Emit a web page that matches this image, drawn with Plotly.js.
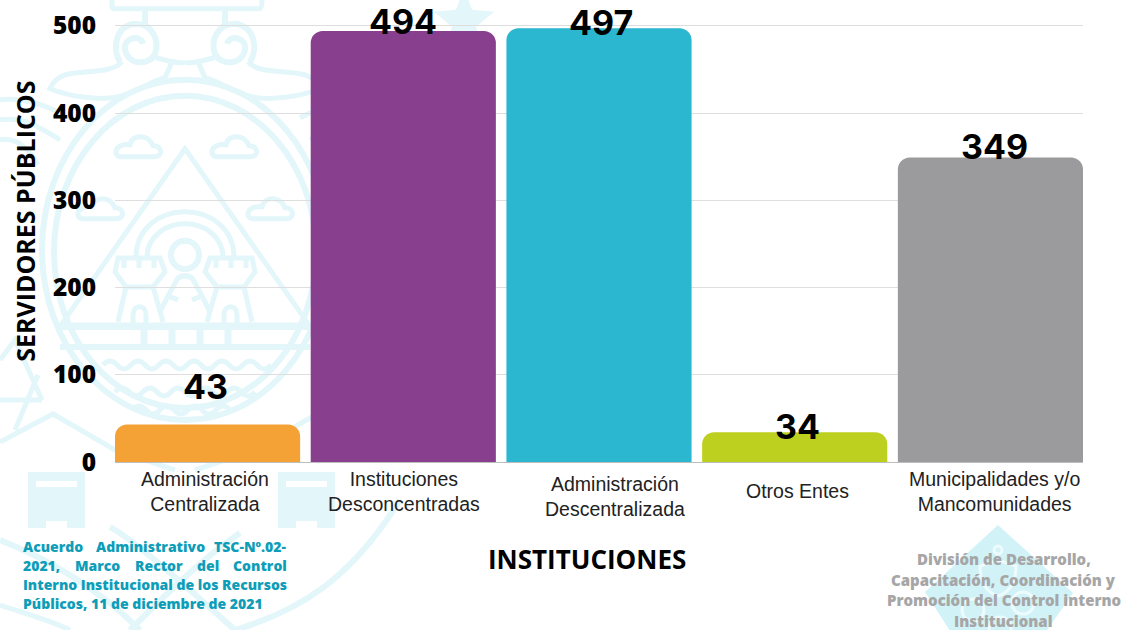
<!DOCTYPE html>
<html><head><meta charset="utf-8">
<script src="https://cdn.plot.ly/plotly-3.0.1.min.js"></script>
<style>html,body{margin:0;padding:0;background:#fff;overflow:hidden}</style>
</head><body><div id="chart" style="width:1123px;height:630px"></div>
<script>
const categories = ['Administración Centralizada','Instituciones Desconcentradas','Administración Descentralizada','Otros Entes','Municipalidades y/o Mancomunidades'];
const tickLabels = ['Administración<br>Centralizada','Instituciones<br>Desconcentradas','Administración<br>Descentralizada','Otros Entes','Municipalidades y/o<br>Mancomunidades'];
const values = [43,494,497,34,349];
const barColors = ['#F4A235','#873F8E','#2BB7D0','#BDD01F','#9B9B9D'];
const yTicks = [0,100,200,300,400,500];
const labelShiftX = [-2,0,2,3,4];
const labelShiftY = [38,9,6,6,11];
const tickShiftX = [-3,1,16,3,4];
const tickCenterY = [491,491,496,491,491];

const L=115, W=968, B=462, H=436;
const px = x => (x-L)/W, py = y => (B-y)/(H+1.74);
const conv = p => p.replace(/(-?[\d.]+),(-?[\d.]+)/g,(m,x,y)=>px(+x)+','+py(+y));
const mirror = p => p.replace(/(-?[\d.]+),(-?[\d.]+)/g,(m,x,y)=>(370-x)+','+y);
const pale='#e3f6fa';
const shapes=[];
const stroke=(p,w=5,c=pale)=>shapes.push({type:'path',layer:'below',xref:'paper',yref:'paper',path:conv(p),line:{color:c,width:w},fillcolor:'rgba(0,0,0,0)'});
const fill=(p,c=pale)=>shapes.push({type:'path',layer:'below',xref:'paper',yref:'paper',path:conv(p),line:{width:0},fillcolor:c});
const both=(p,w=5)=>{stroke(p,w);stroke(mirror(p),w);};
const ell=(cx,cy,rx,ry)=>{const k=.5523;return `M${cx-rx},${cy} C${cx-rx},${cy-k*ry} ${cx-k*rx},${cy-ry} ${cx},${cy-ry} C${cx+k*rx},${cy-ry} ${cx+rx},${cy-k*ry} ${cx+rx},${cy} C${cx+rx},${cy+k*ry} ${cx+k*rx},${cy+ry} ${cx},${cy+ry} C${cx-k*rx},${cy+ry} ${cx-rx},${cy+k*ry} ${cx-rx},${cy} Z`;};
const wave=(x0,x1,y)=>{let s=`M${x0},${y}`,d=-1;for(let x=x0;x<x1;x+=14){s+=` Q${x+7},${y+d*8} ${x+14},${y}`;d=-d;}return s;};
const cloud=(cx,cy)=>`M${cx-16},${cy+9} L${cx+16},${cy+9} C${cx+25},${cy+9} ${cx+25},${cy-2} ${cx+15},${cy-2} C${cx+11},${cy-14} ${cx-6},${cy-14} ${cx-8},${cy-3} C${cx-24},${cy-5} ${cx-26},${cy+9} ${cx-16},${cy+9} Z`;

// watermark emblem
stroke(ell(185,250,143,170),6);
stroke(ell(185,252,131,156),6);
stroke('M185,149 L61,325 L309,325 Z',5);
stroke(ell(185,255,14,14),6);
stroke('M147,258 C147,237 165,224 185,224 C205,224 223,237 223,258',5);
stroke('M136,258 C136,228 160,212 185,212 C210,212 234,228 234,258',5);
both('M118,258 L160,258 L165,272 L153,287 L126,287 L115,272 Z',5);
both('M124,258 L124,268 M139,258 L139,268 M154,258 L154,268',5);
both('M126,287 L118,322 M153,287 L163,322 M133,323 L133,315 C133,304 146,304 146,315 L146,323',5);
both('M160,312 L168,296 L178,278 Q185,274 192,278 M168,296 L178,300',5);
stroke('M60,327 L310,327',6);stroke('M60,347 L310,347',6);
[144,172,200,228].forEach(x=>stroke(`M${x},327 L${x},347`,7));
stroke(wave(103,271,365),5);stroke(wave(115,255,392),5);stroke(wave(132,230,410),5);
[[138,148],[234,148],[100,210],[270,210]].forEach(c=>stroke(cloud(c[0],c[1]),5));
stroke('M112,0 L112,7 Q112,9 115,9 L259,9 Q262,9 262,0',5);
both('M145,9 L145,25',6);
both('M120,62 C112,50 115,26 135,24 C152,24 160,40 155,54 C150,66 128,66 125,50 C123,38 140,34 143,44',6);
both('M122,62 C112,74 85,70 65,75 C56,78 52,84 50,89 C70,97 100,101 118,97 C138,92 150,82 165,78 L172,62 M156,58 Q185,66 185,61',5);
both('M0,100 C25,97 45,105 70,118 M0,120 C25,117 35,125 60,140 M0,140 C15,137 28,148 38,165',5);
both('M0,360 L15,340 L42,400 M42,400 L0,400 M38,375 L15,430',5);
both('M0,442 L53,414 L115,450 L175,470',5);
[[28,85],[278,335]].forEach(r=>{
 fill(`M${r[0]},472 L${r[1]},472 L${r[1]},528 L${r[0]},528 Z`);
 fill(`M${r[0]+8},481 L${r[1]-8},481 L${r[1]-8},487 L${r[0]+8},487 Z`,'#ffffff');
 fill(`M${r[0]+18},521 L${r[1]-18},521 L${r[1]-18},528 L${r[0]+18},528 Z`,'#ffffff');
});
stroke('M0,540 C50,560 100,590 140,630',6);stroke('M110,527 C135,540 190,590 235,630',6);
stroke('M240,533 C200,560 160,600 130,630',6);stroke('M400,500 C350,580 300,610 235,630',6);
stroke('M0,605 C30,615 50,620 70,630',5);
fill('M464,-12 L472,10 L494,12 L476,27 L482,50 L464,38 L446,50 L452,27 L434,12 L456,10 Z');
// corner diamond
fill('M998,525 L1073,593 L1040,640 L956,640 L925,592 Z','#d1f2f7');
stroke(ell(998,550,4,4),3,'#eefbfd');
stroke('M998,560 L1016,566 Q1016,590 998,596 Q980,590 980,566 Z',3,'#eefbfd');
stroke(ell(973,610,11,11),3,'#eefbfd');stroke(ell(1023,603,11,11),3,'#eefbfd');stroke(ell(1000,628,11,11),3,'#eefbfd');

const ann=[];
const note=(text,x,y,size,color,family,anchor='center',extra={},weight=800)=>ann.push(Object.assign({text,x:px(x),y:py(y),xref:'paper',yref:'paper',xanchor:anchor,yanchor:'middle',showarrow:false,font:{size,color,family,weight}},extra));
const OS='"Open Sans", sans-serif', LS='"Liberation Sans", Arial, sans-serif', IN='Inter, sans-serif';
values.forEach((v,i)=>ann.push({text:String(v),x:i,y:v,xref:'x',yref:'y',xanchor:'center',yanchor:'middle',xshift:labelShiftX[i],yshift:labelShiftY[i],showarrow:false,font:{size:34,color:'#000',family:IN,weight:700}}));
tickLabels.forEach((t,i)=>ann.push({text:t,x:i,y:py(tickCenterY[i]),xref:'x',yref:'paper',xanchor:'center',yanchor:'middle',xshift:tickShiftX[i],showarrow:false,font:{size:19.5,color:'#222',family:LS}}));
note('SERVIDORES PÚBLICOS',25,222,25,'#000',OS,'center',{textangle:-90},700);
note('INSTITUCIONES',587,559,26,'#000',OS,'center',{},700);
const teal='#0E9DB8';
[['Acuerdo',21,'left'],['Administrativo',94,'left'],['TSC-Nº.02-',289,'right']].forEach(w=>note(w[0],w[1],546,14,teal,OS,w[2]));
[['2021,',21,'left'],['Marco',73,'left'],['Rector',133,'left'],['del',195,'left'],['Control',289,'right']].forEach(w=>note(w[0],w[1],565,14,teal,OS,w[2]));
note('Interno Institucional de los Recursos',21,584,14,teal,OS,'left');
note('Públicos, 11 de diciembre de 2021',21,603,14,teal,OS,'left');
const grey='#A6A6A6';
['División de Desarrollo,','Capacitación, Coordinación y','Promoción del Control interno','Institucional'].forEach((t,i)=>note(t,1003.5,[559,579.5,600,621][i],15,grey,OS));

Plotly.newPlot('chart',[{type:'bar',x:categories.map((c,i)=>i),y:values,marker:{color:barColors,line:{width:0}},hoverinfo:'skip'}],{
 width:1123,height:630,margin:{l:115,r:40,t:24.26,b:168,pad:0},
 paper_bgcolor:'#fff',plot_bgcolor:'rgba(0,0,0,0)',showlegend:false,bargap:0.054,barcornerradius:12,
 xaxis:{range:[-0.473,4.473],tickmode:'array',tickvals:[],showgrid:false,zeroline:false,showline:true,linecolor:'#bdbdbd',linewidth:1,fixedrange:true},
 yaxis:{range:[0,502],tickmode:'array',tickvals:yTicks,ticktext:yTicks.map(String),showgrid:true,gridcolor:'#dedede',gridwidth:1,zeroline:false,ticks:'outside',ticklen:13,tickcolor:'rgba(0,0,0,0)',tickfont:{family:OS,size:24.5,color:'#000',weight:800},fixedrange:true},
 shapes,annotations:ann
},{displayModeBar:false,staticPlot:true});
</script></body></html>
